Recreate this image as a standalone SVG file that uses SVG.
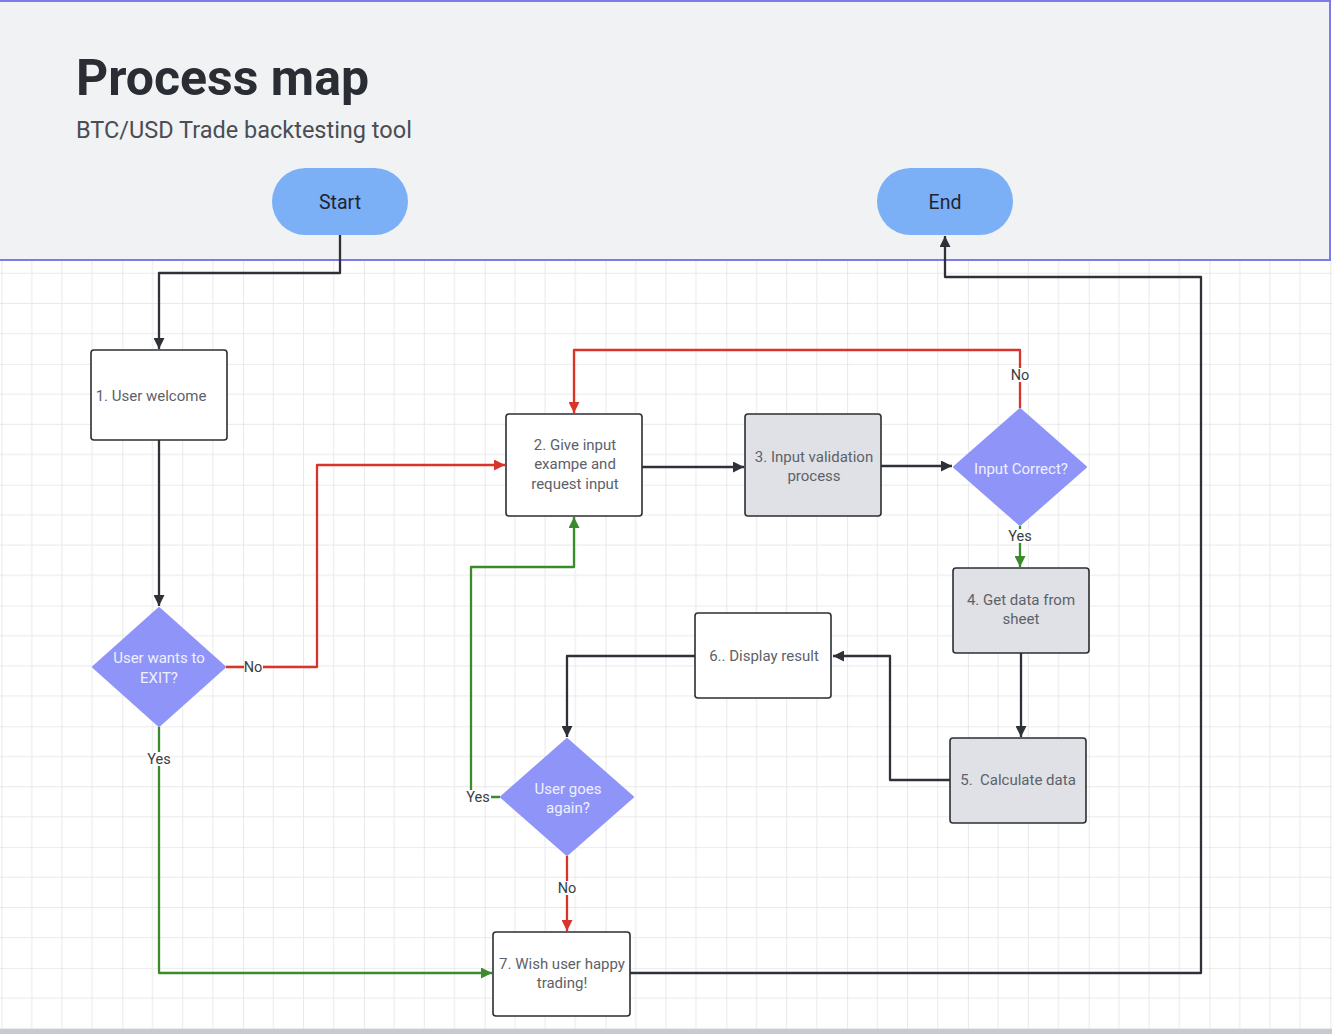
<svg xmlns="http://www.w3.org/2000/svg" width="1332" height="1034" viewBox="0 0 1332 1034">
<style>
text{font-family:Roboto,"Liberation Sans",sans-serif}
.node{fill:#fff;stroke:#2b2e33;stroke-width:1.6}
.gray{fill:#dfe1e6}
.term{fill:#7bb0f7}
.dia{fill:#8f95f8;stroke:#8f95f8;stroke-width:2;stroke-linejoin:round}
.t{font-size:15px;fill:#5d6168;text-anchor:middle}
.td{font-size:15px;fill:#eef0ff;text-anchor:middle}
.tt{font-size:19.5px;fill:#1f2530;text-anchor:middle}
.lbl{font-size:14.5px;fill:#3a3d42;text-anchor:middle}
.c{fill:none;stroke-width:2.3;stroke-linejoin:round}
.k{stroke:#2e3137}
.r{stroke:#d9342b}
.g{stroke:#3b8a2c}
.lb{fill:#fff}
</style>
<defs>
<pattern id="grid" patternUnits="userSpaceOnUse" x="1.5" y="1.5" width="120.8" height="120.8">
<path d="M30.2 0V120.8M60.4 0V120.8M90.6 0V120.8M0 30.2H120.8M0 60.4H120.8M0 90.6H120.8" stroke="#e9e9e9" stroke-width="1" fill="none"/>
<path d="M0 0V120.8M0 0H120.8" stroke="#dadada" stroke-width="1.2" fill="none"/>
</pattern>
<marker id="ak" viewBox="0 0 10 10" refX="10" refY="5" markerWidth="12" markerHeight="11" markerUnits="userSpaceOnUse" orient="auto"><path d="M0 0L10 5L0 10z" fill="#2e3137"/></marker>
<marker id="ar" viewBox="0 0 10 10" refX="10" refY="5" markerWidth="12" markerHeight="11" markerUnits="userSpaceOnUse" orient="auto"><path d="M0 0L10 5L0 10z" fill="#d9342b"/></marker>
<marker id="ag" viewBox="0 0 10 10" refX="10" refY="5" markerWidth="12" markerHeight="11" markerUnits="userSpaceOnUse" orient="auto"><path d="M0 0L10 5L0 10z" fill="#3b8a2c"/></marker>
</defs>
<rect x="0" y="0" width="1332" height="1034" fill="#fff"/>
<rect x="0" y="260" width="1332" height="774" fill="url(#grid)"/>
<rect x="0" y="1029" width="1332" height="5" fill="#c7cbcf"/>
<g id="header">
<rect x="-2" y="1" width="1332" height="259" fill="#f1f2f4" stroke="#7b7bec" stroke-width="2"/>
<text x="76" y="95" font-size="50" font-weight="bold" fill="#2a2d33">Process map</text>
<text x="76" y="138" font-size="23.5" fill="#4a4d53">BTC/USD Trade backtesting tool</text>
</g>
<g id="connectors">
<path class="c k" d="M340 235V273H159V349" marker-end="url(#ak)"/>
<path class="c k" d="M159 440V606" marker-end="url(#ak)"/>
<path class="c r" d="M226 667H317V465H505" marker-end="url(#ar)"/>
<path class="c g" d="M159 727V973H492" marker-end="url(#ag)"/>
<path class="c k" d="M642 467H744" marker-end="url(#ak)"/>
<path class="c k" d="M881 466H952" marker-end="url(#ak)"/>
<path class="c r" d="M1020 408V350H574V413" marker-end="url(#ar)"/>
<path class="c g" d="M1020 526V567" marker-end="url(#ag)"/>
<path class="c k" d="M1021 653V737" marker-end="url(#ak)"/>
<path class="c k" d="M950 780H890V656H833" marker-end="url(#ak)"/>
<path class="c k" d="M695 656H567V737" marker-end="url(#ak)"/>
<path class="c g" d="M500 797H471V567H574V517" marker-end="url(#ag)"/>
<path class="c r" d="M567 856V931" marker-end="url(#ar)"/>
<path class="c k" d="M630 973H1201V277H945V236" marker-end="url(#ak)"/>
<rect class="lb" x="244" y="660" width="19" height="14"/>
<text class="lbl" x="253" y="672">No</text>
<rect class="lb" x="147" y="752" width="24" height="14"/>
<text class="lbl" x="159" y="764">Yes</text>
<rect class="lb" x="1010" y="368" width="21" height="14"/>
<text class="lbl" x="1020" y="380">No</text>
<rect class="lb" x="1008" y="529" width="25" height="14"/>
<text class="lbl" x="1020" y="541">Yes</text>
<rect class="lb" x="465" y="790" width="26" height="14"/>
<text class="lbl" x="478" y="802">Yes</text>
<rect class="lb" x="557" y="881" width="21" height="14"/>
<text class="lbl" x="567" y="893">No</text>
</g>
<g id="start">
<rect class="term" x="272" y="168" width="136" height="67" rx="33.5"/>
<text class="tt" x="340" y="209">Start</text>
</g>
<g id="end">
<rect class="term" x="877" y="168" width="136" height="67" rx="33.5"/>
<text class="tt" x="945" y="209">End</text>
</g>
<g id="n1">
<rect class="node" x="91" y="350" width="136" height="90" rx="3"/>
<text class="t" x="151" y="401">1. User welcome</text>
</g>
<g id="d1">
<path class="dia" d="M159 608L225 667L159 726L93 667Z"/>
<text class="td" x="159" y="663">User wants to</text>
<text class="td" x="159" y="683">EXIT?</text>
</g>
<g id="n2">
<rect class="node" x="506" y="414" width="136" height="102" rx="3"/>
<text class="t" x="575" y="450">2. Give input</text>
<text class="t" x="575" y="469">exampe and</text>
<text class="t" x="575" y="489">request input</text>
</g>
<g id="n3">
<rect class="node gray" x="745" y="414" width="136" height="102" rx="3"/>
<text class="t" x="814" y="462">3. Input validation</text>
<text class="t" x="814" y="481">process</text>
</g>
<g id="d2">
<path class="dia" d="M1020 409L1086 467L1020 525L954 467Z"/>
<text class="td" x="1021" y="474">Input Correct?</text>
</g>
<g id="n4">
<rect class="node gray" x="953" y="568" width="136" height="85" rx="3"/>
<text class="t" x="1021" y="605">4. Get data from</text>
<text class="t" x="1021" y="624">sheet</text>
</g>
<g id="n5">
<rect class="node gray" x="950" y="738" width="136" height="85" rx="3"/>
<text class="t" x="1018" y="785" style="white-space:pre">5.  Calculate data</text>
</g>
<g id="n6">
<rect class="node" x="695" y="613" width="136" height="85" rx="3"/>
<text class="t" x="764" y="661">6.. Display result</text>
</g>
<g id="d3">
<path class="dia" d="M567 739L633 797L567 855L501 797Z"/>
<text class="td" x="568" y="794">User goes</text>
<text class="td" x="568" y="813">again?</text>
</g>
<g id="n7">
<rect class="node" x="493" y="932" width="137" height="84" rx="3"/>
<text class="t" x="562" y="969">7. Wish user happy</text>
<text class="t" x="562" y="988">trading!</text>
</g>
</svg>
